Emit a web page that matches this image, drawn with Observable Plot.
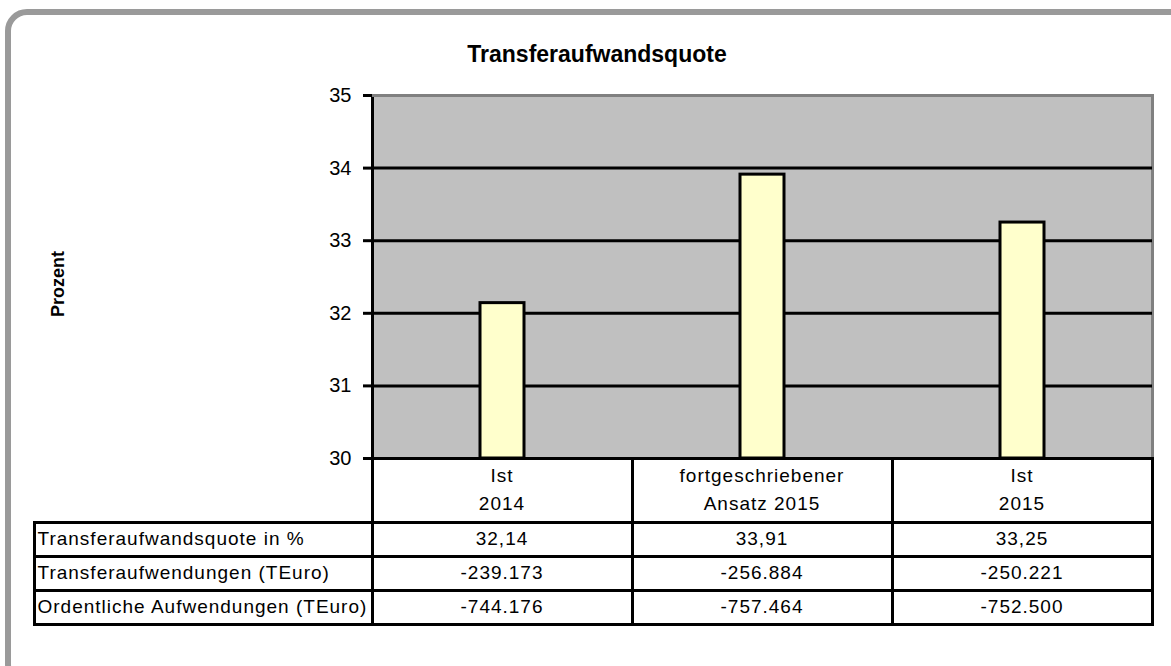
<!DOCTYPE html>
<html>
<head>
<meta charset="utf-8">
<script src="https://cdn.jsdelivr.net/npm/d3@7"></script>
<script src="https://cdn.jsdelivr.net/npm/@observablehq/plot@0.6"></script>
<style>
  body { margin: 0; background: #fff; font-family: "Liberation Sans", Arial, sans-serif; }
  #wrap { position: relative; width: 1171px; height: 666px; overflow: hidden; background: #fff; }
  #frame { position: absolute; left: 5px; top: 9px; width: 1175px; height: 665px; border: 6px solid #9a9a9a; border-radius: 22px; }
  #chart { position: absolute; left: 0; top: 0; }
  #title { position: absolute; left: 297px; top: 43px; width: 600px; text-align: center; font-weight: bold; font-size: 23px; line-height: 23px; color: #000; }
  #ylabel { position: absolute; left: 58px; top: 284px; transform: translate(-50%, -50%) rotate(-90deg); font-weight: bold; font-size: 18px; white-space: nowrap; color: #000; }
  .cell { position: absolute; box-sizing: border-box; border: 3px solid #000; display: flex; align-items: center; justify-content: center; font-size: 19px; letter-spacing: 1px; color: #000; text-align: center; white-space: pre-line; line-height: 28px; background: #fff; }
  .cell.lab { justify-content: flex-start; padding-left: 2px; text-align: left; }
</style>
</head>
<body>
<div id="wrap">
  <div id="frame"></div>
  <div id="chart"></div>
  <div id="title">Transferaufwandsquote</div>
  <div id="ylabel">Prozent</div>
</div>
<script>
// ---- data ----
const categories = ["Ist\n2014", "fortgeschriebener\nAnsatz 2015", "Ist\n2015"];
const quote = [32.14, 33.91, 33.25];
const transferAufwendungen = [-239173, -256884, -250221];
const ordentlicheAufwendungen = [-744176, -757464, -752500];
const rowLabels = ["Transferaufwandsquote in %", "Transferaufwendungen (TEuro)", "Ordentliche Aufwendungen (TEuro)"];
const yTicks = [30, 31, 32, 33, 34, 35];

// German number formatting
const fmtDec = v => v.toFixed(2).replace(".", ",");
const fmtInt = v => {
  const s = Math.abs(v).toString().replace(/\B(?=(\d{3})+(?!\d))/g, ".");
  return (v < 0 ? "-" : "") + s;
};

const data = categories.map((c, i) => ({cat: c, v: quote[i]}));

const plot = Plot.plot({
  width: 1171,
  height: 666,
  marginLeft: 372,
  marginRight: 19,
  marginTop: 95,
  marginBottom: 208,
  style: {fontFamily: '"Liberation Sans", Arial, sans-serif', fontSize: "19px", background: "transparent", color: "#000"},
  x: {domain: categories, padding: 0, axis: null},
  y: {domain: [30, 35], axis: null},
  marks: [
    Plot.frame({fill: "#c0c0c0", stroke: "#808080", strokeWidth: 3}),
    Plot.ruleY(yTicks.slice(0, -1), {stroke: "#000", strokeWidth: 3}),
    Plot.frame({anchor: "left", stroke: "#000", strokeWidth: 3}),
    Plot.ruleY([35], {stroke: "#808080", strokeWidth: 3}),
    Plot.barY(data, {x: "cat", y1: 30, y2: "v", fill: "#ffffcc", stroke: "#000", strokeWidth: 3, insetLeft: 108, insetRight: 108}),
    Plot.axisY({ticks: yTicks, tickSize: 9, tickPadding: 12, tickFormat: d => String(d), label: null, strokeWidth: 3, fontSize: 20})
  ]
});
document.getElementById("chart").appendChild(plot);

// ---- data table aligned to the plot's scales ----
const xs = plot.scale("x");
const ys = plot.scale("y");
const wrap = document.getElementById("wrap");
const tableLeft = 34;
const y0 = ys.apply(30);
const headerH = 64, rowH = 34;
const colBounds = categories.map(c => [xs.apply(c), xs.apply(c) + xs.bandwidth]);
const plotLeft = xs.range[0];

function cell(x0, x1, yA, yB, text, cls) {
  const d = document.createElement("div");
  d.className = "cell" + (cls ? " " + cls : "");
  d.style.left = (x0 - 1.5) + "px";
  d.style.top = (yA - 1.5) + "px";
  d.style.width = (x1 - x0 + 3) + "px";
  d.style.height = (yB - yA + 3) + "px";
  d.textContent = text;
  wrap.appendChild(d);
}

// header row
categories.forEach((c, i) => cell(colBounds[i][0], colBounds[i][1], y0, y0 + headerH, c));
// value rows
const rows = [quote.map(fmtDec), transferAufwendungen.map(fmtInt), ordentlicheAufwendungen.map(fmtInt)];
rows.forEach((vals, r) => {
  const yA = y0 + headerH + r * rowH, yB = yA + rowH;
  cell(tableLeft, plotLeft, yA, yB, rowLabels[r], "lab");
  vals.forEach((v, i) => cell(colBounds[i][0], colBounds[i][1], yA, yB, v));
});
</script>
</body>
</html>
